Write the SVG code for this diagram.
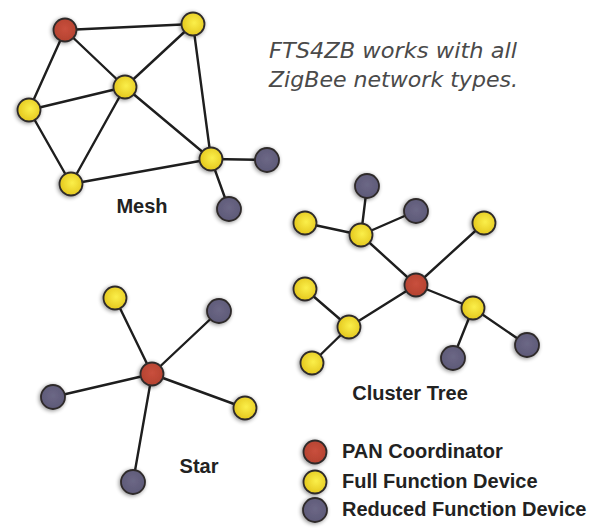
<svg xmlns="http://www.w3.org/2000/svg" width="594" height="529" viewBox="0 0 594 529">
<defs>
<filter id="sh" x="-50%" y="-50%" width="200%" height="200%">
<feGaussianBlur in="SourceAlpha" stdDeviation="2"/>
<feOffset dx="-1" dy="1" result="b"/>
<feComponentTransfer><feFuncA type="linear" slope="0.45"/></feComponentTransfer>
<feMerge><feMergeNode/><feMergeNode in="SourceGraphic"/></feMerge>
</filter>
<radialGradient id="gy" cx="0.55" cy="0.45" r="0.6">
<stop offset="0" stop-color="#fbef4a"/>
<stop offset="1" stop-color="#e2c41a"/>
</radialGradient>
<radialGradient id="gr" cx="0.5" cy="0.45" r="0.6">
<stop offset="0" stop-color="#c9503d"/>
<stop offset="1" stop-color="#b2402f"/>
</radialGradient>
<radialGradient id="gp" cx="0.5" cy="0.45" r="0.6">
<stop offset="0" stop-color="#6c6886"/>
<stop offset="1" stop-color="#5c5876"/>
</radialGradient>
</defs>
<style>
.e{stroke:#1e1e1e;stroke-width:2.4;fill:none;stroke-linecap:round}
.n{stroke:#2e2a2a;stroke-width:1.8;filter:url(#sh)}
.r{fill:url(#gr)}
.y{fill:url(#gy)}
.p{fill:url(#gp)}
.lb{font-family:"Liberation Sans",Arial,sans-serif;font-weight:bold;font-size:20px;fill:#222}
.lg{font-family:"Liberation Sans",Arial,sans-serif;font-weight:bold;font-size:20px;fill:#222}
.tt{font-family:"DejaVu Sans","Liberation Sans",sans-serif;font-style:italic;font-size:21px;fill:#4a4a4a}
</style>
<rect width="594" height="529" fill="#ffffff"/>
<g id="connectors">
<line class="e" x1="65" y1="30" x2="193" y2="24"/>
<line class="e" x1="65" y1="30" x2="125" y2="87"/>
<line class="e" x1="65" y1="30" x2="29" y2="110"/>
<line class="e" x1="193" y1="24" x2="125" y2="87"/>
<line class="e" x1="193" y1="24" x2="211" y2="159"/>
<line class="e" x1="29" y1="110" x2="125" y2="87"/>
<line class="e" x1="29" y1="110" x2="71" y2="184"/>
<line class="e" x1="125" y1="87" x2="71" y2="184"/>
<line class="e" x1="125" y1="87" x2="211" y2="159"/>
<line class="e" x1="71" y1="184" x2="211" y2="159"/>
<line class="e" x1="211" y1="159" x2="267" y2="160"/>
<line class="e" x1="211" y1="159" x2="229" y2="209"/>
<line class="e" x1="416" y1="285" x2="361" y2="235"/>
<line class="e" x1="361" y1="235" x2="367" y2="186"/>
<line class="e" x1="361" y1="235" x2="416" y2="211"/>
<line class="e" x1="361" y1="235" x2="305" y2="223"/>
<line class="e" x1="416" y1="285" x2="484" y2="223"/>
<line class="e" x1="416" y1="285" x2="349" y2="327"/>
<line class="e" x1="349" y1="327" x2="305" y2="289"/>
<line class="e" x1="349" y1="327" x2="312" y2="363"/>
<line class="e" x1="416" y1="285" x2="473" y2="308"/>
<line class="e" x1="473" y1="308" x2="453" y2="358"/>
<line class="e" x1="473" y1="308" x2="527" y2="345"/>
<line class="e" x1="152" y1="374" x2="115" y2="298"/>
<line class="e" x1="152" y1="374" x2="219" y2="311"/>
<line class="e" x1="152" y1="374" x2="53" y2="397"/>
<line class="e" x1="152" y1="374" x2="245" y2="408"/>
<line class="e" x1="152" y1="374" x2="133" y2="482"/>
</g>
<g id="mesh">
<g id="mesh-pan"><circle class="n r" cx="65" cy="30" r="11.5"/></g>
<g id="mesh-ffd1"><circle class="n y" cx="193" cy="24" r="11.5"/></g>
<g id="mesh-ffd2"><circle class="n y" cx="125" cy="87" r="11.5"/></g>
<g id="mesh-ffd3"><circle class="n y" cx="29" cy="110" r="11.5"/></g>
<g id="mesh-ffd4"><circle class="n y" cx="71" cy="184" r="11.5"/></g>
<g id="mesh-ffd5"><circle class="n y" cx="211" cy="159" r="11.5"/></g>
<g id="mesh-rfd1"><circle class="n p" cx="267" cy="160" r="12"/></g>
<g id="mesh-rfd2"><circle class="n p" cx="229" cy="209" r="12"/></g>
<g id="mesh-label"><text class="lb" x="142" y="213" text-anchor="middle">Mesh</text></g>
</g>
<g id="cluster">
<g id="ct-pan"><circle class="n r" cx="416" cy="285" r="11.5"/></g>
<g id="ct-ffd1"><circle class="n y" cx="361" cy="235" r="11.5"/></g>
<g id="ct-rfd1"><circle class="n p" cx="367" cy="186" r="12"/></g>
<g id="ct-rfd2"><circle class="n p" cx="416" cy="211" r="12"/></g>
<g id="ct-ffd2"><circle class="n y" cx="305" cy="223" r="11.5"/></g>
<g id="ct-ffd3"><circle class="n y" cx="484" cy="223" r="11.5"/></g>
<g id="ct-ffd4"><circle class="n y" cx="349" cy="327" r="11.5"/></g>
<g id="ct-ffd5"><circle class="n y" cx="305" cy="289" r="11.5"/></g>
<g id="ct-ffd6"><circle class="n y" cx="312" cy="363" r="11.5"/></g>
<g id="ct-ffd7"><circle class="n y" cx="473" cy="308" r="11.5"/></g>
<g id="ct-rfd3"><circle class="n p" cx="453" cy="358" r="12"/></g>
<g id="ct-rfd4"><circle class="n p" cx="527" cy="345" r="12"/></g>
<g id="ct-label"><text class="lb" x="410" y="400" text-anchor="middle">Cluster Tree</text></g>
</g>
<g id="star">
<g id="st-pan"><circle class="n r" cx="152" cy="374" r="11.5"/></g>
<g id="st-ffd1"><circle class="n y" cx="115" cy="298" r="11.5"/></g>
<g id="st-rfd1"><circle class="n p" cx="219" cy="311" r="12"/></g>
<g id="st-rfd2"><circle class="n p" cx="53" cy="397" r="12"/></g>
<g id="st-ffd2"><circle class="n y" cx="245" cy="408" r="11.5"/></g>
<g id="st-rfd3"><circle class="n p" cx="133" cy="482" r="12"/></g>
<g id="st-label"><text class="lb" x="199" y="473" text-anchor="middle">Star</text></g>
</g>
<g id="legend">
<g id="lg-pan"><circle class="n r" cx="315" cy="452" r="11.5"/><text class="lg" x="342" y="458">PAN Coordinator</text></g>
<g id="lg-ffd"><circle class="n y" cx="315" cy="482" r="11.5"/><text class="lg" x="342" y="488">Full Function Device</text></g>
<g id="lg-rfd"><circle class="n p" cx="315" cy="510" r="12"/><text class="lg" x="342" y="516">Reduced Function Device</text></g>
</g>
<g id="title">
<text class="tt" x="269" y="58" textLength="248" lengthAdjust="spacingAndGlyphs">FTS4ZB works with all</text>
<text class="tt" x="269" y="87" textLength="249" lengthAdjust="spacingAndGlyphs">ZigBee network types.</text>
</g>
</svg>
